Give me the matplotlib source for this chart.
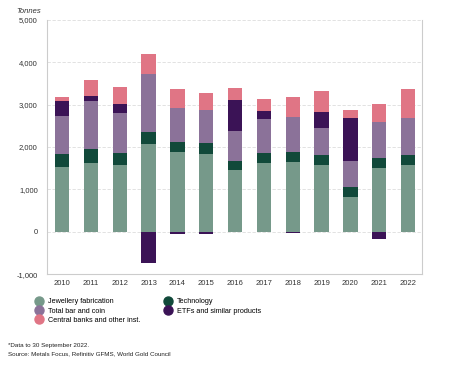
import matplotlib
matplotlib.use("Agg")
import matplotlib.pyplot as plt
from matplotlib.lines import Line2D
import numpy as np

plt.rcParams['font.family'] = ['Liberation Sans', 'DejaVu Sans']

years = ['2010', '2011', '2012', '2013', '2014', '2015', '2016',
         '2017', '2018', '2019', '2020', '2021', '2022']
jewellery = [1523, 1618, 1587, 2082, 1877, 1839, 1446, 1627, 1641, 1570, 816, 1500, 1570]
technology = [323, 330, 276, 283, 252, 245, 236, 236, 252, 236, 229, 245, 236]
bar_coin = [880, 1148, 950, 1361, 786, 780, 700, 792, 809, 637, 629, 849, 889]
etfs = [370, 118, 196, -740, -60, -60, 738, 198, -40, 377, 1014, -165, 0]
central_banks = [94, 370, 410, 471, 457, 418, 283, 283, 481, 505, 179, 415, 677]

c_jew = '#76998a'
c_tech = '#11493a'
c_bar = '#8b7299'
c_etf = '#3b1356'
c_cb = '#e07585'

fig = plt.figure(figsize=(4.63, 3.78), dpi=100)
ax = fig.add_axes([0.101, 0.275, 0.811, 0.672])

x = np.arange(len(years))
w = 0.5
jew = np.array(jewellery)
tech = np.array(technology)
bc = np.array(bar_coin)
etf = np.array(etfs)
cb = np.array(central_banks)

ax.bar(x, jew, w, color=c_jew, zorder=2)
ax.bar(x, tech, w, bottom=jew, color=c_tech, zorder=2)
base = jew + tech
ax.bar(x, bc, w, bottom=base, color=c_bar, zorder=2)
base = base + bc
pos = np.where(etf > 0, etf, 0)
neg = np.where(etf < 0, etf, 0)
ax.bar(x, pos, w, bottom=base, color=c_etf, zorder=2)
ax.bar(x, neg, w, bottom=0, color=c_etf, zorder=2)
base = base + pos
ax.bar(x, cb, w, bottom=base, color=c_cb, zorder=2)

ax.set_xlim(-0.53, 12.49)
ax.set_ylim(-1000, 5000)
ax.set_xticks(x)
ax.set_xticklabels(years, fontsize=5.5, color='#333333')
ax.set_yticks([-1000, 0, 1000, 2000, 3000, 4000, 5000])
ax.set_yticklabels(['-1,000', '0', '1,000', '2,000', '3,000', '4,000', '5,000'],
                   fontsize=5.5, color='#333333')
ax.tick_params(axis='x', length=0, pad=4)
ax.tick_params(axis='y', length=0, pad=6.5)
ax.yaxis.grid(True, color='#dddddd', linestyle=(0, (4, 2)), linewidth=0.6, zorder=0)
for s in ['left', 'bottom', 'right']:
    ax.spines[s].set_color('#cccccc')
    ax.spines[s].set_linewidth(0.8)
ax.spines['top'].set_visible(False)

fig.text(0.088, 0.966, 'Tonnes', fontsize=5.5, style='italic', color='#333333', ha='right')

handles = [Line2D([], [], marker='o', linestyle='', markersize=6.5, color=c)
           for c in [c_jew, c_bar, c_cb, c_tech, c_etf]]
labels = ['Jewellery fabrication', 'Total bar and coin', 'Central banks and other inst.',
          'Technology', 'ETFs and similar products']
leg = fig.legend(handles + [Line2D([], [], linestyle='')], labels + [''],
                 loc='upper left', bbox_to_anchor=(0.062, 0.228), ncol=2,
                 frameon=False, fontsize=5.2, handletextpad=0.75,
                 labelspacing=0.3, columnspacing=3.3, handlelength=1.0)

fig.text(0.017, 0.083, '*Data to 30 September 2022.', fontsize=4.5, color='#222222')
fig.text(0.017, 0.059, 'Source: Metals Focus, Refinitiv GFMS, World Gold Council',
         fontsize=4.5, color='#222222')

fig.savefig('out.png', dpi=100)
